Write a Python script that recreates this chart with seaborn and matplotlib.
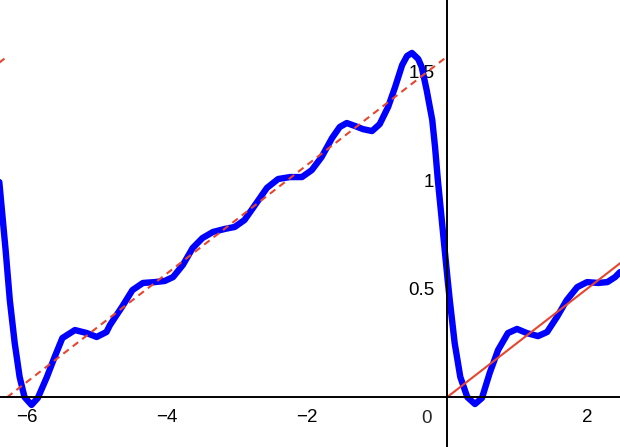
import numpy as np
import pandas as pd
import seaborn as sns
import matplotlib.pyplot as plt

# partial sum curve
curve_x = [-6.39, -6.30, -6.24, -6.17, -6.10, -6.03, -5.93, -5.84, -5.71, -5.60,
           -5.49, -5.31, -5.14, -5.00, -4.86, -4.81, -4.64, -4.49, -4.34, -4.17,
           -4.03, -3.91, -3.77, -3.63, -3.49, -3.34, -3.17, -3.03, -2.89, -2.77,
           -2.57, -2.41, -2.24, -2.07, -1.93, -1.79, -1.64, -1.53, -1.43, -1.31,
           -1.20, -1.07, -0.96, -0.84, -0.74, -0.64, -0.57, -0.50, -0.41, -0.36,
           -0.29, -0.21, -0.17, -0.13, -0.06, 0.01, 0.04, 0.11, 0.19, 0.29,
           0.40, 0.50, 0.61, 0.73, 0.87, 1.00, 1.14, 1.30, 1.43, 1.57,
           1.71, 1.86, 2.00, 2.16, 2.29, 2.40, 2.47]
curve_y = [0.992, 0.679, 0.448, 0.250, 0.094, 0.001, -0.035, -0.003, 0.094, 0.186,
           0.273, 0.310, 0.296, 0.278, 0.301, 0.333, 0.416, 0.494, 0.527, 0.531,
           0.536, 0.554, 0.610, 0.688, 0.734, 0.762, 0.776, 0.785, 0.817, 0.872,
           0.965, 1.006, 1.015, 1.015, 1.047, 1.107, 1.195, 1.246, 1.264, 1.250,
           1.236, 1.227, 1.259, 1.338, 1.430, 1.531, 1.573, 1.587, 1.559, 1.522,
           1.416, 1.278, 1.153, 1.001, 0.771, 0.541, 0.448, 0.250, 0.094, 0.001,
           -0.031, -0.003, 0.112, 0.218, 0.296, 0.315, 0.296, 0.282, 0.301, 0.370,
           0.448, 0.508, 0.531, 0.527, 0.531, 0.554, 0.577]

# the target line x/4 on one period (solid) and neighbouring periods (dashed)
line_x = [0.0, 6.28]
line_y = [0.0, 1.57]
prev_x = [-6.28, 0.0]
prev_y = [0.0, 1.57]
prev2_x = [-12.57, -6.28]
prev2_y = [0.0, 1.57]

xticks = [-6, -4, -2, 2]
yticks = [0.5, 1, 1.5]
ytick_labels = ['0.5', '1', '1.5']

sns.set_style('white')
plt.rcParams['font.family'] = ['Liberation Sans', 'DejaVu Sans']

fig = plt.figure(figsize=(6.2, 4.47), dpi=100)
ax = fig.add_axes([0, 0, 1, 1])

curve = pd.DataFrame({'x': curve_x, 'y': curve_y})
sns.lineplot(data=curve, x='x', y='y', sort=False, estimator=None, color='#0000ff',
             linewidth=4.6, solid_capstyle='round', solid_joinstyle='round', ax=ax)

red = '#e8452f'
sns.lineplot(x=line_x, y=line_y, color=red, linewidth=1.5, ax=ax)
for xs, ys in [(prev_x, prev_y), (prev2_x, prev2_y)]:
    sns.lineplot(x=xs, y=ys, color=red, linewidth=1.5, dashes=False, ax=ax)
    ax.lines[-1].set_dashes((3.3, 2.4))

ax.set_xlim(-6.38, 2.47)
ax.set_ylim(-0.229, 1.831)

for s in ['top', 'right']:
    ax.spines[s].set_visible(False)
ax.spines['left'].set_position(('data', 0))
ax.spines['bottom'].set_position(('data', 0))
for s in ['left', 'bottom']:
    ax.spines[s].set_color('black')
    ax.spines[s].set_linewidth(1.4)

ax.set_xticks(xticks)
ax.set_xticklabels(['\u2212' + str(abs(t)) if t < 0 else str(t) for t in xticks])
ax.set_yticks(yticks)
ax.set_yticklabels(ytick_labels)
ax.tick_params(axis='x', direction='out', length=4, width=1.2, pad=4.5, labelsize=13.5, colors='black')
ax.tick_params(axis='y', direction='out', length=4, width=1.2, pad=5, labelsize=13.5, colors='black')
ax.annotate('0', xy=(0, 0), xytext=(-15, -15.5), textcoords='offset points',
            ha='center', va='center', fontsize=13.5)

ax.set_xlabel('')
ax.set_ylabel('')
ax.grid(False)

fig.savefig('out.png', dpi=100)
